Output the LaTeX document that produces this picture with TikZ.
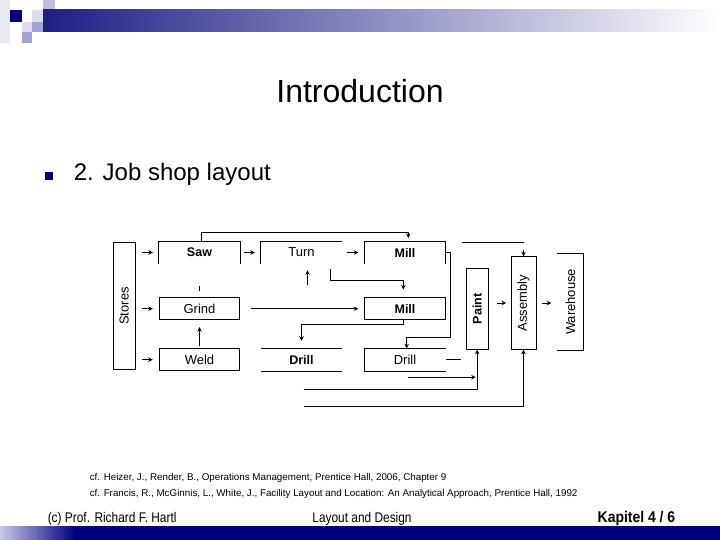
\documentclass[tikz,border=0pt]{standalone}
\usepackage{fontspec}
\usetikzlibrary{arrows.meta}
\setmainfont{Liberation Sans}
\newfontfamily\narrowfont[FakeStretch=0.85]{Liberation Sans}
\newfontfamily\heavyfont[FakeStretch=0.9]{Liberation Sans}
\definecolor{navy}{HTML}{000080}
\definecolor{barleft}{HTML}{1E1E86}
\definecolor{barmid}{HTML}{A9A9C2}
\definecolor{pale}{HTML}{DCDCEE}
\definecolor{lilac}{HTML}{A4A4D4}
\begin{document}
\begin{tikzpicture}[x=1pt,y=-1pt,>={Stealth[length=4.5pt,width=4.5pt]},line join=round,line width=0.9pt,
    lbl/.style={font=\fontsize{13}{15}\selectfont},
    bold/.style={font=\fontsize{12.5}{15}\selectfont\bfseries},
    cell/.style={lbl,minimum width=80.5pt,minimum height=22pt,inner sep=0pt},
    tall/.style={lbl,inner sep=0pt},
    flow/.style={->,shorten <=6pt,shorten >=6pt}]
    \useasboundingbox (0,0) rectangle (720,540);
    % banner top and bottom
    \fill[pale!60] (0,0) rectangle (10,43);
    \fill[lilac!70] (43,0) rectangle (55,10);
    \fill[navy] (10,10) rectangle (22,22);
    \fill[pale] (32,10) rectangle (43,22);
    \fill[pale] (22,22) rectangle (32,32);
    \fill[lilac] (32,22) rectangle (43,32);
    \fill[lilac] (22,32) rectangle (32,43);
    \shade[left color=barleft,middle color=barmid,right color=white] (43,10) rectangle (720,32);
    \shade[left color=lilac!60,right color=navy] (0,526) rectangle (75,540);
    \fill[navy] (75,526) rectangle (720,540);
    % title and bullet
    \node[font=\fontsize{32}{38}\selectfont,anchor=base] (title) at (360,103) {Introduction};
    \fill[navy] (45,172) rectangle (53,180.5);
    \node[font=\fontsize{24}{29}\selectfont,anchor=base west] (item) at (70,180.5) {2. Job shop layout};
    % departments
    \node[tall,draw,minimum width=21.7pt,minimum height=126.6pt] (stores) at (124.2,306) {\rotatebox{90}{Stores}};
    \node[cell,bold] (saw) at (199.5,252.5) {Saw};
    \node[cell] (turn) at (301.5,252.5) {Turn};
    \node[cell,bold] (millA) at (405,252.5) {Mill};
    \node[cell,draw] (grind) at (199.5,308.7) {Grind};
    \node[cell,draw,bold] (millB) at (405,308.7) {Mill};
    \node[cell,draw] (weld) at (199.5,359.7) {Weld};
    \node[cell,bold] (drillA) at (301.5,359.7) {Drill};
    \node[cell] (drillB) at (405,359.7) {Drill};
    \node[tall,bold,draw,minimum width=22.3pt,minimum height=81pt] (paint) at (477.2,308.8) {\rotatebox{90}{Paint}};
    \node[tall,draw,minimum width=25pt,minimum height=92.6pt] (assembly) at (523.5,303) {\rotatebox{90}{Assembly}};
    \node[tall,minimum width=25.6pt,minimum height=96pt] (warehouse) at (570.5,302) {\rotatebox{90}{Warehouse}};
    % open sides
    \draw (saw.south west) |- (saw.north east) -- (saw.south east);
    \draw (turn.south west) |- (turn.north east);
    \draw (millA.south west) |- (millA.north east) -- (millA.south east);
    \draw (drillA.north west) -- (drillA.north east) (drillA.south west) -- (drillA.south east);
    \draw (drillB.north east) -| (drillB.south west) -- (drillB.south east);
    \draw (warehouse.north west) -| (warehouse.south east) -- (warehouse.south west);
    % flows
    \draw[flow] (stores.east |- saw) -- (saw.west);
    \draw[flow] (stores.east |- grind) -- (grind.west);
    \draw[flow] (stores.east |- weld) -- (weld.west);
    \draw[flow,shorten <=3.5pt] (saw) -- (turn);
    \draw[flow,shorten <=5pt] (turn) -- (millA);
    \draw[flow,shorten <=8pt,shorten >=4.5pt] (paint.east |- assembly) -- (assembly.west);
    \draw[flow] (assembly.east) -- (assembly.east -| warehouse.west);
    \draw[->,shorten <=2pt,shorten >=7pt] (weld) -- (grind);
    \draw ([yshift=6pt]grind.north) -- ++(0,-5);
    \draw[->,shorten <=10.5pt,shorten >=6pt] (grind) -- (millB);
    \draw[->] ([xshift=1.5pt]saw.north) -- ++(0,-9) -| ([xshift=3.3pt,yshift=3pt]millA.north);
    \coordinate (tin) at ([xshift=6pt,yshift=-21.5pt]turn.south);
    \draw[->] (tin) -- ([xshift=6pt,yshift=-6.5pt]turn.south);
    \draw[->] ([xshift=28.5pt,yshift=-5pt]turn.south) -- ++(0,11.7) -| ([xshift=-1.7pt,yshift=7.7pt]millB.north);
    \draw[->] ([xshift=-1.7pt]millB.south) -- ++(0,4.5) -| ([yshift=7.5pt]drillA.north);
    \draw[->] (millA.east) -- ++(4.5,0) |- ([xshift=1.7pt,yshift=11pt]drillB.north) -- ([xshift=1.7pt]drillB.north);
    \draw (drillB.east) -- ++(15,0);
    \coordinate (dB) at (408,377.2);
    \coordinate (dA1) at (303.5,389.3);
    \coordinate (dA2) at (303.5,406.3);
    \coordinate (aTop) at (461.7,242.7);
    \draw[->,shorten >=1.5pt] (dB) -- (dB -| paint.south);
    \draw[->] (dA1) -| (paint.south);
    \draw[->] (dA2) -| (assembly.south);
    \draw (aTop) -- (aTop -| assembly.north);
    \draw[->] ([yshift=6pt]assembly.north) -- (assembly.north);
    % references and footer
    \node[font=\fontsize{9.8}{12}\selectfont,anchor=base west] (ref1) at (86,480.5) {cf. Heizer, J., Render, B., Operations Management, Prentice Hall, 2006, Chapter 9};
    \node[font=\fontsize{9.8}{12}\selectfont,anchor=base west] (ref2) at (86,496.5) {cf. Francis, R., McGinnis, L., White, J., Facility Layout and Location: An Analytical Approach, Prentice Hall, 1992};
    \node[font=\narrowfont\fontsize{14}{16}\selectfont,anchor=base west] (author) at (44,522) {(c) Prof. Richard F. Hartl};
    \node[font=\narrowfont\fontsize{14}{16}\selectfont,anchor=base] (topic) at (362,522) {Layout and Design};
    \node[font=\heavyfont\bfseries\fontsize{15.5}{18}\selectfont,anchor=base east] (page) at (679,522) {Kapitel 4 / 6};
\end{tikzpicture}
\end{document}
